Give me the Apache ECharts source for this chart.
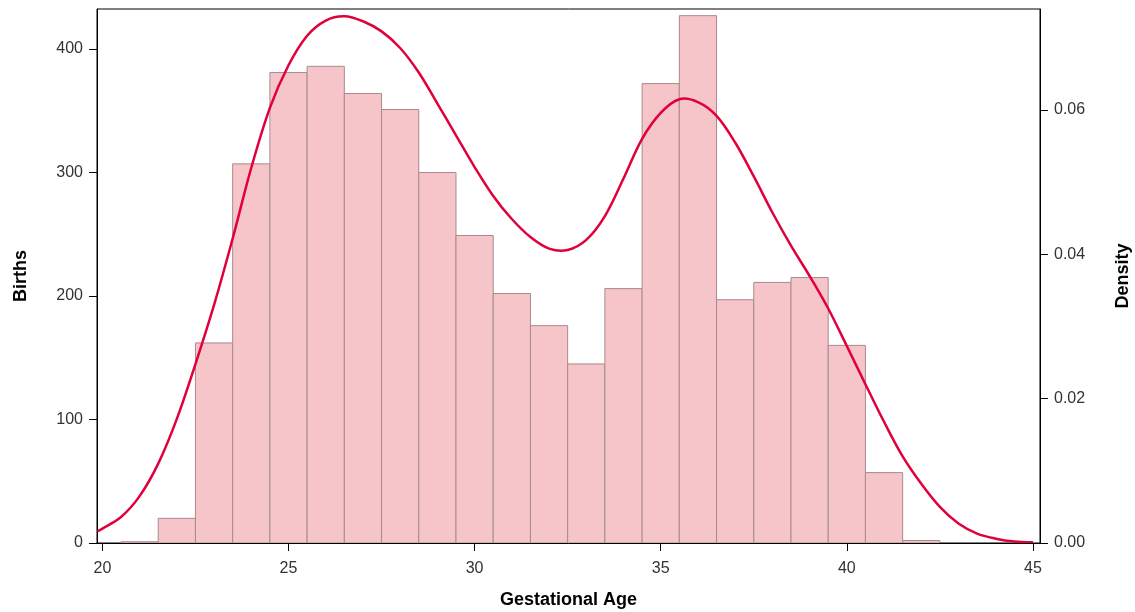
<!DOCTYPE html>
<html>
<head>
<meta charset="utf-8">
<title>Births by Gestational Age</title>
<script src="https://cdn.jsdelivr.net/npm/echarts@6/dist/echarts.min.js"></script>
<style>
  html, body { margin: 0; padding: 0; background: #ffffff; }
  #chart { width: 1135px; height: 612px; }
</style>
</head>
<body>
<div id="chart"></div>
<script>
// Histogram bins (centre of each one-week bin) and birth counts
const ages = [21, 22, 23, 24, 25, 26, 27, 28, 29, 30, 31, 32, 33, 34, 35, 36, 37, 38, 39, 40, 41, 42];
const births = [1, 20, 162, 307, 381, 386, 364, 351, 300, 249, 202, 176, 145, 206, 372, 427, 197, 211, 215, 160, 57, 2];

// Kernel density estimate, sampled every half week
const densityAges = [19.86, 20, 20.5, 21, 21.5, 22, 22.5, 23, 23.5, 24, 24.5, 25, 25.5, 26, 26.5, 27, 27.5, 28, 28.5, 29,
  29.5, 30, 30.5, 31, 31.5, 32, 32.5, 33, 33.5, 34, 34.5, 35, 35.5, 36, 36.5, 37, 37.5, 38, 38.5, 39,
  39.5, 40, 40.5, 41, 41.5, 42, 42.5, 43, 43.5, 44, 44.5, 45];
const densityValues = [0.0016, 0.0020, 0.0036, 0.0065, 0.0110, 0.0172, 0.0248, 0.0330, 0.0422, 0.0520, 0.0603, 0.0662, 0.0703, 0.0724, 0.0730, 0.0723, 0.0709, 0.0686, 0.0652, 0.0609,
  0.0565, 0.0521, 0.0481, 0.0449, 0.0424, 0.0408, 0.0406, 0.0420, 0.0453, 0.0505, 0.0560, 0.0596, 0.0615, 0.0611, 0.0592, 0.0555, 0.0508, 0.0458, 0.0412, 0.0370,
  0.0325, 0.0273, 0.0220, 0.0168, 0.0120, 0.0082, 0.0050, 0.0027, 0.0013, 0.0006, 0.0002, 0.0001];

// Tick values
const ageTicks = [20, 25, 30, 35, 40, 45];
const birthTicks = [0, 100, 200, 300, 400];
const densityTicks = [0, 0.02, 0.04, 0.06];

const BIN_WIDTH = 1;
const FONT = "'Liberation Sans', Arial, sans-serif";

const chart = echarts.init(document.getElementById('chart'), null, { renderer: 'canvas' });

const axisCommon = {
  axisLine: { show: true, lineStyle: { color: '#000', width: 1 } },
  axisTick: { show: true, length: 8, lineStyle: { color: '#000', width: 1 } },
  splitLine: { show: false },
  nameTextStyle: { fontFamily: FONT, fontWeight: 'bold', fontSize: 18, color: '#000' }
};
const labelCommon = { fontFamily: FONT, fontSize: 16, color: '#333', margin: 14 };

chart.setOption({
  animation: false,
  backgroundColor: '#ffffff',
  grid: {
    left: 97, right: 95, top: 9, bottom: 69,
    containLabel: false,
    outerBoundsMode: 'none',
    show: true, borderColor: '#000', borderWidth: 1, backgroundColor: 'transparent'
  },
  xAxis: {
    type: 'value',
    min: 19.855,
    max: 45.19,
    name: 'Gestational Age',
    nameLocation: 'middle',
    nameGap: 48,
    ...axisCommon,
    axisTick: { ...axisCommon.axisTick, customValues: ageTicks },
    axisLabel: { ...labelCommon, margin: 18, customValues: ageTicks }
  },
  yAxis: [
    {
      type: 'value',
      position: 'left',
      min: 0,
      max: 432.4,
      name: 'Births',
      nameLocation: 'middle',
      nameRotate: 90,
      nameGap: 67,
      ...axisCommon,
      axisTick: { ...axisCommon.axisTick, customValues: birthTicks },
      axisLabel: { ...labelCommon, customValues: birthTicks }
    },
    {
      type: 'value',
      position: 'right',
      min: 0,
      max: 0.0740,
      name: 'Density',
      nameLocation: 'middle',
      nameRotate: 90,
      nameGap: 74,
      ...axisCommon,
      axisTick: { ...axisCommon.axisTick, customValues: densityTicks },
      axisLabel: { ...labelCommon, customValues: densityTicks, formatter: v => v.toFixed(2) }
    }
  ],
  series: [
    {
      type: 'custom',
      name: 'Births',
      xAxisIndex: 0,
      yAxisIndex: 0,
      data: ages.map((a, i) => [a, births[i]]),
      encode: { x: 0, y: 1 },
      clip: true,
      renderItem: function (params, api) {
        const age = api.value(0);
        const count = api.value(1);
        const topLeft = api.coord([age - BIN_WIDTH / 2, count]);
        const bottomRight = api.coord([age + BIN_WIDTH / 2, 0]);
        return {
          type: 'rect',
          shape: {
            x: topLeft[0],
            y: topLeft[1],
            width: bottomRight[0] - topLeft[0],
            height: bottomRight[1] - topLeft[1]
          },
          style: { fill: '#f6c5c9', stroke: '#a98a8c', lineWidth: 1 }
        };
      }
    },
    {
      // Density curve: one smooth polyline through every sample, placed with the axis scales
      type: 'custom',
      name: 'Density',
      xAxisIndex: 0,
      yAxisIndex: 1,
      data: densityAges.map((a, i) => [a, densityValues[i]]),
      encode: { x: 0, y: 1 },
      clip: true,
      z: 3,
      renderItem: function (params, api) {
        if (params.dataIndex !== 0) return null;
        const points = densityAges.map((a, i) => api.coord([a, densityValues[i]]));
        return {
          type: 'polyline',
          shape: { points: points, smooth: 0.35 },
          style: { fill: null, stroke: '#e0003c', lineWidth: 2.5, lineJoin: 'round' }
        };
      }
    }
  ]
});
</script>
</body>
</html>
